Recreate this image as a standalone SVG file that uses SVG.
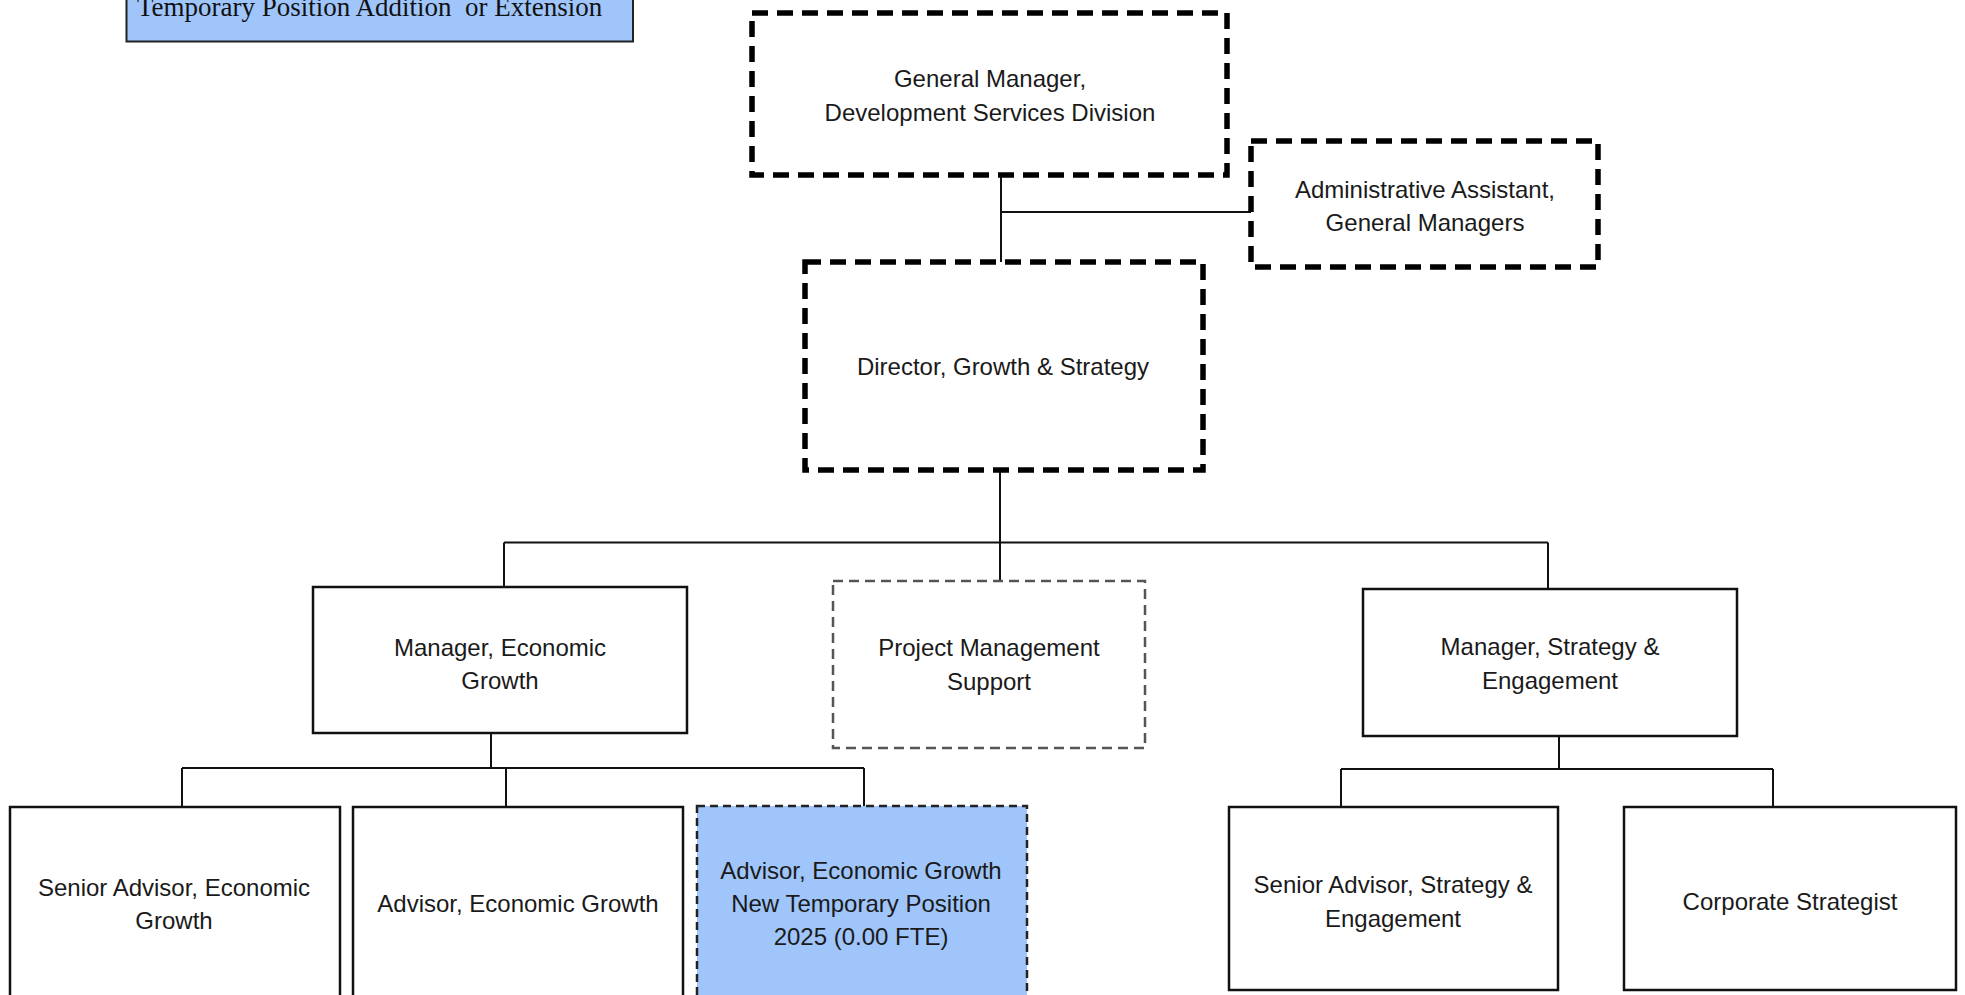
<svg xmlns="http://www.w3.org/2000/svg" width="1965" height="995" viewBox="0 0 1965 995">
<style>
.t{font-family:"Liberation Sans",Arial,sans-serif;font-size:24px;fill:#1a1a1a;text-anchor:middle}
.leg{font-family:"Liberation Serif","Times New Roman",serif;font-size:27px;fill:#111;white-space:pre}
.solid{fill:#fff;stroke:#111;stroke-width:2.5}
.thick{fill:#fff;stroke:#000;stroke-width:5.5;stroke-dasharray:16 9}
.pm{fill:#fff;stroke:#555;stroke-width:2.5;stroke-dasharray:10 6}
.temp{fill:#9fc5fb;stroke:#222;stroke-width:2.5;stroke-dasharray:8 5}
.c{fill:none;stroke:#111;stroke-width:2}
</style>
<rect width="1965" height="995" fill="#fff"/>
<g id="legend">
<rect x="126.5" y="-10" width="506.5" height="51.5" fill="#9fc5fb" stroke="#222" stroke-width="2"/>
<text class="leg" x="137" y="16" xml:space="preserve">Temporary Position Addition  or Extension</text>
</g>
<g id="connectors">
<path class="c" d="M1001 175.5V262M1001 212H1251"/>
<path class="c" d="M1000 471V581M504 542.5H1548M504 542.5V587M1548 542.5V589"/>
<path class="c" d="M491 734V768M182 768H864M182 768V807M506 768V807M864 768V807"/>
<path class="c" d="M1559 736V769M1341 769H1773M1341 769V807M1773 769V807"/>
</g>
<g id="gm">
<rect class="thick" x="752" y="13" width="475" height="162"/>
<text class="t" x="990" y="87">General Manager,</text>
<text class="t" x="990" y="121">Development Services Division</text>
</g>
<g id="admin">
<rect class="thick" x="1251" y="141" width="347" height="126"/>
<text class="t" x="1425" y="198">Administrative Assistant,</text>
<text class="t" x="1425" y="231">General Managers</text>
</g>
<g id="director">
<rect class="thick" x="805" y="262" width="398" height="208"/>
<text class="t" x="1003" y="375">Director, Growth &amp; Strategy</text>
</g>
<g id="mgr-eg">
<rect class="solid" x="313" y="587" width="374" height="146"/>
<text class="t" x="500" y="656">Manager, Economic</text>
<text class="t" x="500" y="689">Growth</text>
</g>
<g id="pm">
<rect class="pm" x="833" y="581" width="312" height="167"/>
<text class="t" x="989" y="656">Project Management</text>
<text class="t" x="989" y="690">Support</text>
</g>
<g id="mgr-se">
<rect class="solid" x="1363" y="589" width="374" height="147"/>
<text class="t" x="1550" y="655">Manager, Strategy &amp;</text>
<text class="t" x="1550" y="689">Engagement</text>
</g>
<g id="sa-eg">
<rect class="solid" x="10" y="807" width="330" height="200"/>
<text class="t" x="174" y="896">Senior Advisor, Economic</text>
<text class="t" x="174" y="929">Growth</text>
</g>
<g id="a-eg">
<rect class="solid" x="353" y="807" width="330" height="200"/>
<text class="t" x="518" y="912">Advisor, Economic Growth</text>
</g>
<g id="a-eg-temp">
<rect class="temp" x="697" y="806" width="330" height="200"/>
<text class="t" x="861" y="879">Advisor, Economic Growth</text>
<text class="t" x="861" y="912">New Temporary Position</text>
<text class="t" x="861" y="945">2025 (0.00 FTE)</text>
</g>
<g id="sa-se">
<rect class="solid" x="1229" y="807" width="329" height="183"/>
<text class="t" x="1393" y="893">Senior Advisor, Strategy &amp;</text>
<text class="t" x="1393" y="927">Engagement</text>
</g>
<g id="cs">
<rect class="solid" x="1624" y="807" width="332" height="183"/>
<text class="t" x="1790" y="910">Corporate Strategist</text>
</g>
</svg>
